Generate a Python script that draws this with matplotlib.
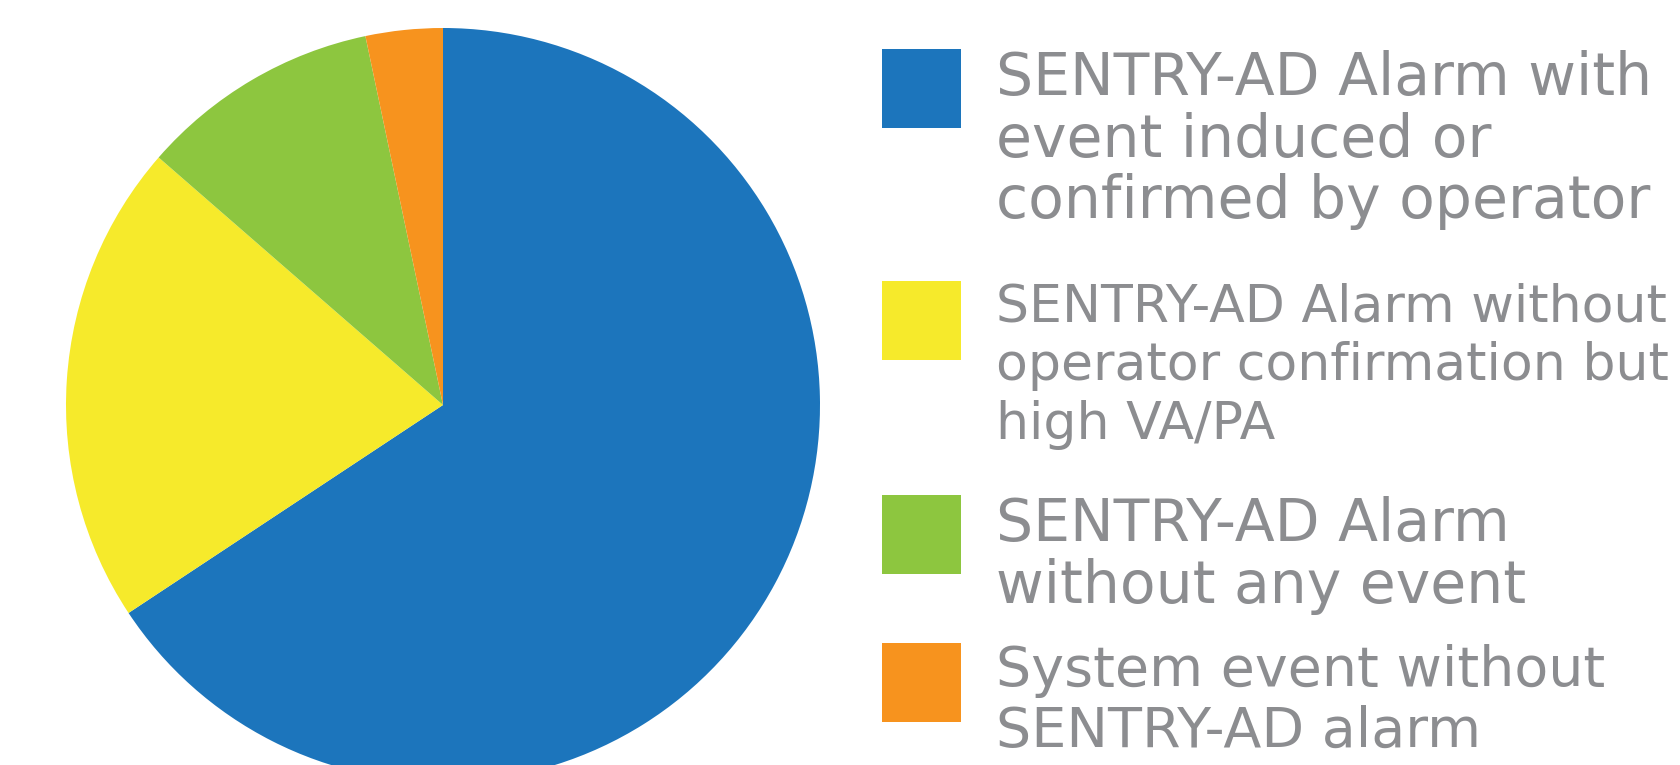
import matplotlib
matplotlib.use("Agg")
import matplotlib.pyplot as plt
from matplotlib.patches import Rectangle

W, H = 1681, 765
TEXT = "#8c8d90"

labels = [
    "SENTRY-AD Alarm with\nevent induced or\nconfirmed by operator",
    "SENTRY-AD Alarm without\noperator confirmation but\nhigh VA/PA",
    "SENTRY-AD Alarm\nwithout any event",
    "System event without\nSENTRY-AD alarm",
]
shares = [65.7, 20.7, 10.3, 3.3]
colors = ["#1c75bc", "#f6ea2b", "#8dc63f", "#f7931e"]

# legend layout: entry tops in px from the top, and a per-entry font size
# (the original sets some labels tighter than others)
entry_top = [49, 281, 495, 643]
entry_size = [42, 37.5, 42, 40]
LINE_PX = 58

fig = plt.figure(figsize=(W / 100, H / 100), dpi=100, facecolor="white")

# pie: centre (443, 405) px, radius 377 px
r, cx, cy = 377, 443, 405
ax = fig.add_axes([(cx - r) / W, (H - cy - r) / H, 2 * r / W, 2 * r / H])
ax.pie(shares, colors=colors, startangle=90, counterclock=False,
       wedgeprops=dict(linewidth=0))
ax.set_xlim(-1, 1)
ax.set_ylim(-1, 1)
ax.set_aspect("equal")
ax.axis("off")

sq = 79
for lab, col, top, fs in zip(labels, colors, entry_top, entry_size):
    fig.add_artist(Rectangle((882 / W, 1 - (top + sq) / H), sq / W, sq / H,
                             transform=fig.transFigure, color=col, lw=0))
    fig.text(996 / W, 1 - (top + 1) / H, lab, ha="left", va="top",
             fontsize=fs, color=TEXT, family="DejaVu Sans",
             linespacing=LINE_PX / (1.253 * fs))

fig.savefig("out.png", dpi=100, facecolor="white")
